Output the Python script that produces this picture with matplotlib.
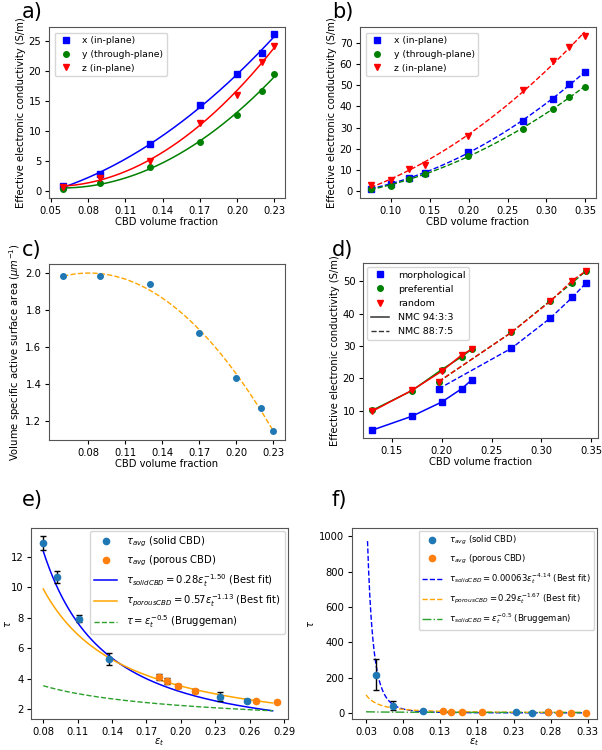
import numpy as np
import matplotlib
matplotlib.use("Agg")
import matplotlib.pyplot as plt
from matplotlib.lines import Line2D

# ---------------- data ----------------
# a) NMC 94:3:3
a_cbd = [0.06, 0.09, 0.13, 0.17, 0.20, 0.22, 0.23]
a_x = [0.8, 2.8, 7.8, 14.3, 19.4, 23.0, 26.1]
a_y = [0.3, 1.3, 4.0, 8.2, 12.7, 16.7, 19.5]
a_z = [0.6, 2.2, 5.0, 11.4, 16.0, 21.4, 24.2]

# b) NMC 88:7:5
b_cbd = [0.074, 0.10, 0.124, 0.1435, 0.199, 0.27, 0.309, 0.329, 0.349]
b_x = [1.0, 3.5, 6.2, 8.6, 18.5, 33.2, 43.5, 50.6, 56.2]
b_y = [0.8, 2.4, 5.8, 8.0, 16.8, 29.3, 38.6, 44.7, 49.4]
b_z = [2.8, 5.0, 10.2, 12.5, 26.0, 48.0, 61.3, 68.3, 73.5]

# c) surface area
c_cbd = [0.06, 0.09, 0.13, 0.17, 0.20, 0.22, 0.23]
c_area = [1.985, 1.985, 1.94, 1.68, 1.437, 1.275, 1.15]

# d) generation methods
d_cbd_943 = [0.13, 0.17, 0.20, 0.22, 0.23]
d_morph_943 = [4.0, 8.3, 12.7, 16.8, 19.5]
d_pref_943 = [10.1, 16.2, 22.7, 26.7, 29.0]
d_rand_943 = [9.8, 16.3, 22.2, 27.2, 29.0]
d_cbd_875 = [0.197, 0.27, 0.309, 0.331, 0.345]
d_morph_875 = [16.8, 29.3, 38.6, 45.0, 49.5]
d_pref_875 = [19.0, 34.2, 44.0, 49.5, 53.2]
d_rand_875 = [19.0, 34.2, 43.8, 50.2, 53.2]

# e) tortuosity NMC 94:3:3
e_eps_solid = [0.08, 0.092, 0.111, 0.1375, 0.2345, 0.2575]
e_tau_solid = [12.9, 10.7, 7.95, 5.3, 2.8, 2.55]
e_err_solid = [0.45, 0.4, 0.25, 0.4, 0.3, 0.1]
e_eps_por = [0.1805, 0.1877, 0.1975, 0.212, 0.2658, 0.2837]
e_tau_por = [4.1, 3.85, 3.5, 3.2, 2.55, 2.45]
e_err_por = [0.2, 0.2, 0.12, 0.12, 0.08, 0.08]
e_fit_solid = (0.28, -1.50)
e_fit_por = (0.57, -1.13)
e_fit_brug = (1.0, -0.5)
e_fit_range = (0.08, 0.28)

# f) tortuosity NMC 88:7:5
f_eps_solid = [0.044, 0.066, 0.107, 0.2334, 0.2546, 0.276]
f_tau_solid = [215, 40, 8, 2, 0, 2]
f_err_solid = [88, 25, 3, 1, 1, 1]
f_eps_por = [0.134, 0.1446, 0.16, 0.187, 0.276, 0.2907, 0.307, 0.3277]
f_tau_por = [8, 5, 3, 2, 2, 0, 0, 0]
f_err_por = [2, 1, 1, 1, 1, 1, 1, 1]
f_fit_solid = (0.00063, -4.14)
f_fit_por = (0.29, -1.67)
f_fit_brug = (1.0, -0.5)
f_fit_range_solid = (0.032, 0.33)
f_fit_range = (0.03, 0.33)

# ---------------- figure ----------------
plt.rcParams['font.size'] = 7
fig = plt.figure(figsize=(6.02, 7.5), dpi=100)
W, H = 602.0, 750.0

def ax_px(l, r, t, b):
    return fig.add_axes([l / W, 1 - b / H, (r - l) / W, (b - t) / H])

TF = 7.2
def style(ax):
    ax.tick_params(labelsize=TF, length=3, pad=2.5)
    for s in ax.spines.values():
        s.set_color('#555555')

def polyline(x, y, deg=2, n=200):
    c = np.polyfit(x, y, deg)
    xx = np.linspace(min(x), max(x), n)
    return xx, np.polyval(c, xx)

# a)
ax = ax_px(49, 285, 27, 198)
for ys, col, mk, lab in [(a_x, 'blue', 's', 'x (in-plane)'),
                         (a_y, 'green', 'o', 'y (through-plane)'),
                         (a_z, 'red', 'v', 'z (in-plane)')]:
    xx, yy = polyline(a_cbd, ys)
    ax.plot(xx, yy, color=col, lw=1.1)
    ax.plot(a_cbd, ys, mk, color=col, ms=4, label=lab, ls='none')
ax.set_xlim(0.0487, 0.2385)
ax.set_ylim(-1.17, 27.3)
ax.set_xticks([0.05, 0.08, 0.11, 0.14, 0.17, 0.20, 0.23])
ax.set_yticks([0, 5, 10, 15, 20, 25])
ax.set_xlabel('CBD volume fraction', fontsize=TF, labelpad=1)
ax.set_ylabel('Effective electronic conductivity (S/m)', fontsize=TF, labelpad=2)
ax.legend(loc='upper left', fontsize=6.7, numpoints=1, handlelength=1.6,
          handletextpad=1.0, borderaxespad=0.6)
style(ax)

# b)
ax = ax_px(360, 596, 27, 198)
for ys, col, mk, lab in [(b_x, 'blue', 's', 'x (in-plane)'),
                         (b_y, 'green', 'o', 'y (through-plane)'),
                         (b_z, 'red', 'v', 'z (in-plane)')]:
    xx, yy = polyline(b_cbd, ys)
    ax.plot(xx, yy, '--', color=col, lw=1.0)
    ax.plot(b_cbd, ys, mk, color=col, ms=4, label=lab, ls='none')
ax.set_xlim(0.0605, 0.3637)
ax.set_ylim(-3.3, 77.6)
ax.set_xticks([0.10, 0.15, 0.20, 0.25, 0.30, 0.35])
ax.set_yticks([0, 10, 20, 30, 40, 50, 60, 70])
ax.set_xlabel('CBD volume fraction', fontsize=TF, labelpad=1)
ax.set_ylabel('Effective electronic conductivity (S/m)', fontsize=TF, labelpad=2)
ax.legend(loc='upper left', fontsize=6.7, numpoints=1, handlelength=1.6,
          handletextpad=1.0, borderaxespad=0.6)
style(ax)

# c)
ax = ax_px(49, 285, 264, 440)
xx, yy = polyline(c_cbd, c_area, 2)
ax.plot(xx, yy, '--', color='orange', lw=1.0)
ax.plot(c_cbd, c_area, 'o', color='tab:blue', ms=4)
ax.set_xlim(0.0484, 0.2395)
ax.set_ylim(1.10, 2.05)
ax.set_xticks([0.08, 0.11, 0.14, 0.17, 0.20, 0.23])
ax.set_yticks([1.2, 1.4, 1.6, 1.8, 2.0])
ax.set_xlabel('CBD volume fraction', fontsize=TF, labelpad=1)
ax.set_ylabel(r'Volume specific active surface area ($\mu m^{-1}$)', fontsize=TF, labelpad=2)
style(ax)

# d)
ax = ax_px(363, 598, 263, 438)
for ys, col, mk in [(d_morph_943, 'blue', 's'), (d_pref_943, 'green', 'o'), (d_rand_943, 'red', 'v')]:
    ax.plot(d_cbd_943, ys, '-', marker=mk, color=col, ms=4, lw=1.1)
for ys, col, mk in [(d_morph_875, 'blue', 's'), (d_pref_875, 'green', 'o'), (d_rand_875, 'red', 'v')]:
    ax.plot(d_cbd_875, ys, '--', marker=mk, color=col, ms=4, lw=1.0)
ax.set_xlim(0.121, 0.3568)
ax.set_ylim(1.6, 55.6)
ax.set_xticks([0.15, 0.20, 0.25, 0.30, 0.35])
ax.set_yticks([10, 20, 30, 40, 50])
ax.set_xlabel('CBD volume fraction', fontsize=TF, labelpad=1)
ax.set_ylabel('Effective electronic conductivity (S/m)', fontsize=TF, labelpad=2)
handles = [Line2D([], [], ls='none', marker='s', color='blue', ms=4),
           Line2D([], [], ls='none', marker='o', color='green', ms=4),
           Line2D([], [], ls='none', marker='v', color='red', ms=4),
           Line2D([], [], ls='-', color='#333333', lw=1.1),
           Line2D([], [], ls='--', color='#333333', lw=1.0)]
ax.legend(handles, ['morphological', 'preferential', 'random', 'NMC 94:3:3', 'NMC 88:7:5'],
          loc='upper left', fontsize=6.8, handlelength=2.0, handletextpad=0.9,
          labelspacing=0.55, borderaxespad=0.4)
style(ax)

# helper legend handles for tau panels
def dot(c):
    return Line2D([], [], ls='none', marker='o', color=c, ms=4.5)

# e)
ax = ax_px(31, 288, 528, 719)
ax.errorbar(e_eps_solid, e_tau_solid, yerr=e_err_solid, fmt='o', color='tab:blue',
            ecolor='black', elinewidth=1, capsize=2, ms=4.5, zorder=3)
ax.errorbar(e_eps_por, e_tau_por, yerr=e_err_por, fmt='o', color='tab:orange',
            ecolor='black', elinewidth=1, capsize=2, ms=4.5, zorder=3)
xx = np.linspace(e_fit_range[0], e_fit_range[1], 300)
l1, = ax.plot(xx, e_fit_solid[0] * xx ** e_fit_solid[1], color='blue', lw=1.1)
l2, = ax.plot(xx, e_fit_por[0] * xx ** e_fit_por[1], color='orange', lw=1.1)
l3, = ax.plot(xx, e_fit_brug[0] * xx ** e_fit_brug[1], '--', color='tab:green', lw=1.0)
ax.set_xlim(0.0693, 0.2934)
ax.set_ylim(1.35, 13.9)
ax.set_xticks([0.08, 0.11, 0.14, 0.17, 0.20, 0.23, 0.26, 0.29])
ax.set_yticks([2, 4, 6, 8, 10, 12])
ax.set_xlabel(r'$\varepsilon_t$', fontsize=TF, labelpad=0)
ax.set_ylabel(r'$\tau$', fontsize=TF, ha='center', va='center')
ax.yaxis.set_label_coords(-23.0 / 257.0, 0.5)
ax.legend([dot('tab:blue'), dot('tab:orange'), l1, l2, l3],
          [r'$\tau_{avg}$ (solid CBD)', r'$\tau_{avg}$ (porous CBD)',
           r'$\tau_{solidCBD} = 0.28\varepsilon_t^{-1.50}$ (Best fit)',
           r'$\tau_{porousCBD} = 0.57\varepsilon_t^{-1.13}$ (Best fit)',
           r'$\tau = \varepsilon_t^{-0.5}$ (Bruggeman)'],
          loc='upper right', fontsize=7.2, handlelength=2.3, labelspacing=0.4,
          handletextpad=0.9, borderaxespad=0.3)
style(ax)

# f)
ax = ax_px(352, 597, 528, 719)
ax.errorbar(f_eps_solid, f_tau_solid, yerr=f_err_solid, fmt='o', color='tab:blue',
            ecolor='black', elinewidth=1, capsize=2, ms=4.5, zorder=3)
ax.errorbar(f_eps_por, f_tau_por, yerr=f_err_por, fmt='o', color='tab:orange',
            ecolor='black', elinewidth=1, capsize=2, ms=4.5, zorder=3)
xs = np.linspace(f_fit_range_solid[0], f_fit_range_solid[1], 400)
xx = np.linspace(f_fit_range[0], f_fit_range[1], 400)
l1, = ax.plot(xs, f_fit_solid[0] * xs ** f_fit_solid[1], '--', color='blue', lw=1.0)
l2, = ax.plot(xx, f_fit_por[0] * xx ** f_fit_por[1], '--', color='orange', lw=1.0)
l3, = ax.plot(xx, f_fit_brug[0] * xx ** f_fit_brug[1], '-.', color='tab:green', lw=1.0)
ax.set_xlim(0.011, 0.3426)
ax.set_ylim(-35, 1047)
ax.set_xticks([0.03, 0.08, 0.13, 0.18, 0.23, 0.28, 0.33])
ax.set_yticks([0, 200, 400, 600, 800, 1000])
ax.set_xlabel(r'$\varepsilon_t$', fontsize=TF, labelpad=0)
ax.set_ylabel(r'$\tau$', fontsize=TF, labelpad=2)
ax.legend([dot('tab:blue'), dot('tab:orange'), l1, l2, l3],
          [r'$\tau_{avg}$ (solid CBD)', r'$\tau_{avg}$ (porous CBD)',
           r'$\tau_{solidCBD} = 0.00063\varepsilon_t^{-4.14}$ (Best fit)',
           r'$\tau_{porousCBD} = 0.29\varepsilon_t^{-1.67}$ (Best fit)',
           r'$\tau_{solidCBD} = \varepsilon_t^{-0.5}$ (Bruggeman)'],
          loc='upper right', fontsize=6.1, handlelength=2.3, labelspacing=0.65,
          handletextpad=0.9, borderaxespad=0.3)
style(ax)

# panel labels
for lab, x, y in [('a)', 22, 18), ('b)', 332, 18), ('c)', 22, 256), ('d)', 332, 256),
                  ('e)', 22, 506), ('f)', 332, 506)]:
    fig.text(x / W, 1 - y / H, lab, fontsize=15, ha='left', va='baseline')

fig.savefig('out.png', dpi=100)
